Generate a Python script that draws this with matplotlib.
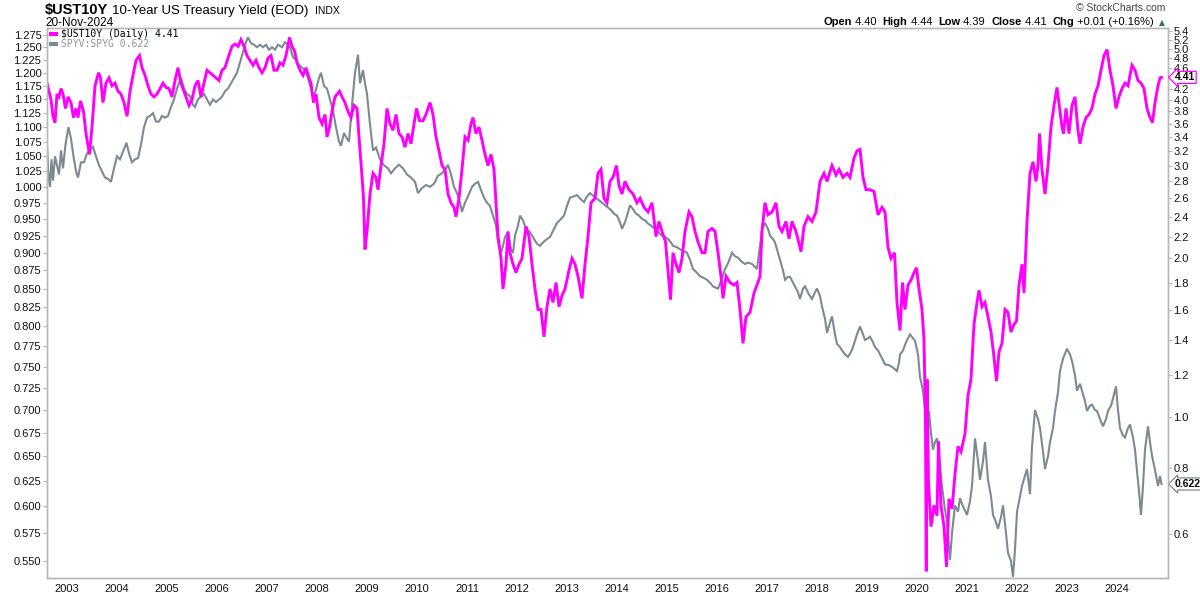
import matplotlib
matplotlib.use("Agg")
import matplotlib.pyplot as plt
import matplotlib.transforms as mtransforms
from matplotlib.ticker import FixedLocator, NullLocator, FixedFormatter, NullFormatter
from matplotlib.lines import Line2D

# ---------------- data (decimal years) ----------------
ust_t = [2002.60, 2002.64, 2002.68, 2002.72, 2002.76, 2002.80, 2002.84, 2002.88, 2002.92, 2002.97,
         2003.02, 2003.08, 2003.13, 2003.18, 2003.22, 2003.27, 2003.33, 2003.38, 2003.45, 2003.50,
         2003.56, 2003.63, 2003.67, 2003.72, 2003.78, 2003.84, 2003.90, 2003.96, 2004.02, 2004.08,
         2004.14, 2004.20, 2004.26, 2004.32, 2004.38, 2004.45, 2004.50, 2004.56, 2004.62, 2004.68,
         2004.74, 2004.80, 2004.86, 2004.92, 2004.98, 2005.04, 2005.10, 2005.16, 2005.22, 2005.28,
         2005.34, 2005.40, 2005.44, 2005.50, 2005.56, 2005.62, 2005.68, 2005.74, 2005.80, 2005.86,
         2005.92, 2005.98, 2006.04, 2006.10, 2006.16, 2006.22, 2006.30, 2006.36, 2006.42, 2006.48,
         2006.54, 2006.60, 2006.66, 2006.72, 2006.78, 2006.84, 2006.90, 2006.96, 2007.02, 2007.08,
         2007.14, 2007.20, 2007.26, 2007.32, 2007.38, 2007.45, 2007.50, 2007.55, 2007.60, 2007.66,
         2007.72, 2007.78, 2007.84, 2007.88, 2007.93, 2007.98, 2008.04, 2008.10, 2008.16, 2008.20,
         2008.25, 2008.30, 2008.36, 2008.45, 2008.50, 2008.56, 2008.62, 2008.68, 2008.74, 2008.80,
         2008.85, 2008.89, 2008.93, 2008.96, 2009.00, 2009.06, 2009.12, 2009.18, 2009.22, 2009.28,
         2009.34, 2009.40, 2009.46, 2009.52, 2009.58, 2009.64, 2009.70, 2009.76, 2009.82, 2009.88,
         2009.94, 2009.99, 2010.05, 2010.12, 2010.18, 2010.26, 2010.32, 2010.38, 2010.44, 2010.50,
         2010.56, 2010.62, 2010.68, 2010.74, 2010.78, 2010.84, 2010.90, 2010.96, 2011.02, 2011.08,
         2011.12, 2011.18, 2011.24, 2011.30, 2011.36, 2011.42, 2011.48, 2011.54, 2011.58, 2011.62,
         2011.68, 2011.72, 2011.78, 2011.82, 2011.86, 2011.92, 2011.98, 2012.04, 2012.10, 2012.18,
         2012.24, 2012.30, 2012.36, 2012.42, 2012.48, 2012.54, 2012.60, 2012.66, 2012.72, 2012.78,
         2012.84, 2012.90, 2012.96, 2013.04, 2013.10, 2013.16, 2013.22, 2013.30, 2013.36, 2013.42,
         2013.48, 2013.56, 2013.62, 2013.68, 2013.74, 2013.80, 2013.86, 2013.92, 2013.99, 2014.04,
         2014.10, 2014.16, 2014.24, 2014.32, 2014.40, 2014.46, 2014.54, 2014.62, 2014.70, 2014.78,
         2014.84, 2014.90, 2014.97, 2015.03, 2015.07, 2015.12, 2015.18, 2015.24, 2015.30, 2015.36,
         2015.44, 2015.50, 2015.56, 2015.62, 2015.70, 2015.76, 2015.82, 2015.90, 2015.96, 2016.02,
         2016.08, 2016.12, 2016.18, 2016.26, 2016.34, 2016.40, 2016.46, 2016.52, 2016.58, 2016.66,
         2016.74, 2016.80, 2016.86, 2016.90, 2016.96, 2017.02, 2017.10, 2017.18, 2017.24, 2017.30,
         2017.38, 2017.44, 2017.50, 2017.58, 2017.68, 2017.74, 2017.82, 2017.90, 2017.98, 2018.06,
         2018.14, 2018.20, 2018.30, 2018.38, 2018.44, 2018.52, 2018.60, 2018.66, 2018.74, 2018.80,
         2018.86, 2018.92, 2018.98, 2019.06, 2019.14, 2019.22, 2019.30, 2019.36, 2019.42, 2019.48,
         2019.55, 2019.60, 2019.66, 2019.71, 2019.76, 2019.82, 2019.88, 2019.94, 2019.99, 2020.04,
         2020.10, 2020.14, 2020.17, 2020.185, 2020.20, 2020.23, 2020.28, 2020.34, 2020.40, 2020.43,
         2020.48, 2020.54, 2020.59, 2020.64, 2020.70, 2020.76, 2020.82, 2020.88, 2020.96, 2021.02,
         2021.08, 2021.14, 2021.20, 2021.24, 2021.30, 2021.36, 2021.42, 2021.48, 2021.54, 2021.59,
         2021.64, 2021.70, 2021.76, 2021.82, 2021.88, 2021.94, 2021.99, 2022.04, 2022.10, 2022.14,
         2022.20, 2022.26, 2022.32, 2022.38, 2022.42, 2022.45, 2022.50, 2022.56, 2022.62, 2022.68,
         2022.74, 2022.80, 2022.86, 2022.90, 2022.93, 2022.98, 2023.04, 2023.10, 2023.16, 2023.22,
         2023.26, 2023.32, 2023.38, 2023.44, 2023.50, 2023.56, 2023.62, 2023.68, 2023.74, 2023.80,
         2023.86, 2023.92, 2023.98, 2024.04, 2024.10, 2024.16, 2024.22, 2024.30, 2024.36, 2024.42,
         2024.48, 2024.54, 2024.60, 2024.66, 2024.71, 2024.76, 2024.82, 2024.86, 2024.89]
ust_v = [4.30, 4.15, 4.00, 3.72, 3.62, 4.10, 4.05, 4.20, 4.10, 3.85,
         4.05, 3.95, 3.70, 3.85, 3.70, 3.98, 3.80, 3.45, 3.15, 3.55,
         4.25, 4.50, 4.40, 3.95, 4.30, 4.40, 4.25, 4.30, 4.15, 4.10,
         3.95, 3.72, 4.15, 4.45, 4.75, 4.85, 4.60, 4.45, 4.25, 4.10,
         4.05, 4.10, 4.20, 4.30, 4.22, 4.20, 4.05, 4.35, 4.60, 4.30,
         4.15, 4.00, 3.90, 4.00, 4.25, 4.35, 4.05, 4.30, 4.55, 4.50,
         4.45, 4.40, 4.35, 4.55, 4.60, 4.80, 5.05, 5.10, 5.05, 5.20,
         5.05, 4.85, 4.75, 4.65, 4.75, 4.60, 4.50, 4.60, 4.80, 4.85,
         4.55, 4.55, 4.70, 4.65, 4.85, 5.25, 5.05, 4.95, 4.70, 4.55,
         4.45, 4.60, 4.40, 4.30, 3.95, 4.10, 3.70, 3.60, 3.75, 3.40,
         3.55, 3.80, 4.05, 4.15, 4.05, 3.95, 3.80, 3.70, 3.90, 3.85,
         3.30, 2.95, 2.60, 2.08, 2.25, 2.65, 2.90, 2.85, 2.70, 3.00,
         3.30, 3.85, 3.60, 3.50, 3.75, 3.45, 3.40, 3.25, 3.45, 3.30,
         3.60, 3.85, 3.65, 3.65, 3.75, 3.95, 3.75, 3.40, 3.20, 3.00,
         2.95, 2.65, 2.55, 2.50, 2.40, 2.60, 2.95, 3.40, 3.35, 3.60,
         3.70, 3.45, 3.55, 3.35, 3.15, 3.00, 3.15, 2.95, 2.55, 2.20,
         2.00, 1.75, 1.95, 2.25, 2.05, 1.95, 1.88, 1.95, 2.00, 2.30,
         2.20, 1.95, 1.75, 1.60, 1.60, 1.42, 1.62, 1.75, 1.65, 1.80,
         1.62, 1.70, 1.75, 1.90, 2.00, 1.95, 1.85, 1.68, 1.95, 2.20,
         2.55, 2.60, 2.90, 2.95, 2.60, 2.55, 2.80, 2.85, 3.00, 2.75,
         2.65, 2.80, 2.70, 2.65, 2.55, 2.60, 2.50, 2.45, 2.55, 2.20,
         2.35, 2.25, 2.15, 1.85, 1.67, 2.05, 1.95, 1.88, 2.00, 2.25,
         2.45, 2.40, 2.25, 2.15, 2.05, 2.05, 2.25, 2.28, 2.25, 2.05,
         1.85, 1.68, 1.85, 1.80, 1.78, 1.80, 1.60, 1.38, 1.55, 1.58,
         1.72, 1.78, 1.85, 2.25, 2.55, 2.42, 2.45, 2.55, 2.30, 2.25,
         2.35, 2.18, 2.35, 2.25, 2.06, 2.30, 2.40, 2.35, 2.45, 2.80,
         2.90, 2.80, 3.00, 2.88, 2.95, 2.85, 2.90, 2.85, 3.10, 3.20,
         3.22, 2.85, 2.70, 2.70, 2.68, 2.42, 2.50, 2.45, 2.10, 2.00,
         2.05, 1.65, 1.46, 1.80, 1.60, 1.78, 1.82, 1.88, 1.92, 1.75,
         1.60, 1.40, 0.98, 0.51, 1.18, 0.75, 0.62, 0.68, 0.65, 0.90,
         0.68, 0.62, 0.52, 0.70, 0.67, 0.78, 0.88, 0.86, 0.93, 1.10,
         1.18, 1.50, 1.65, 1.74, 1.62, 1.65, 1.55, 1.45, 1.30, 1.17,
         1.33, 1.38, 1.60, 1.58, 1.45, 1.50, 1.52, 1.78, 1.95, 1.72,
         2.35, 2.90, 3.05, 2.80, 3.00, 3.45, 2.95, 2.65, 3.00, 3.55,
         3.90, 4.22, 3.80, 3.55, 3.45, 3.85, 3.45, 3.90, 4.05, 3.50,
         3.30, 3.55, 3.70, 3.75, 3.85, 4.10, 4.25, 4.55, 4.85, 4.98,
         4.55, 4.25, 3.85, 4.05, 4.20, 4.30, 4.25, 4.65, 4.55, 4.35,
         4.30, 4.20, 3.85, 3.70, 3.62, 3.95, 4.25, 4.40, 4.41]

ratio_t = [2002.60, 2002.63, 2002.66, 2002.69, 2002.72, 2002.76, 2002.80, 2002.84, 2002.88, 2002.92,
           2002.97, 2003.03, 2003.08, 2003.13, 2003.18, 2003.22, 2003.28, 2003.34, 2003.40, 2003.46,
           2003.52, 2003.58, 2003.64, 2003.70, 2003.76, 2003.82, 2003.88, 2003.94, 2004.00, 2004.06,
           2004.12, 2004.19, 2004.24, 2004.30, 2004.36, 2004.42, 2004.48, 2004.54, 2004.60, 2004.66,
           2004.72, 2004.78, 2004.84, 2004.90, 2004.96, 2005.02, 2005.08, 2005.14, 2005.20, 2005.28,
           2005.34, 2005.40, 2005.46, 2005.52, 2005.56, 2005.62, 2005.68, 2005.74, 2005.80, 2005.86,
           2005.92, 2005.98, 2006.04, 2006.10, 2006.16, 2006.22, 2006.28, 2006.34, 2006.40, 2006.46,
           2006.52, 2006.58, 2006.62, 2006.68, 2006.74, 2006.80, 2006.86, 2006.92, 2006.98, 2007.04,
           2007.10, 2007.16, 2007.22, 2007.30, 2007.36, 2007.42, 2007.46, 2007.52, 2007.58, 2007.64,
           2007.70, 2007.76, 2007.82, 2007.88, 2007.92, 2007.97, 2008.04, 2008.08, 2008.14, 2008.20,
           2008.26, 2008.32, 2008.38, 2008.44, 2008.48, 2008.54, 2008.60, 2008.64, 2008.70, 2008.76,
           2008.82, 2008.86, 2008.92, 2008.96, 2009.00, 2009.06, 2009.12, 2009.18, 2009.26, 2009.34,
           2009.42, 2009.48, 2009.56, 2009.64, 2009.72, 2009.80, 2009.88, 2009.96, 2010.02, 2010.10,
           2010.18, 2010.26, 2010.34, 2010.42, 2010.50, 2010.58, 2010.62, 2010.68, 2010.74, 2010.80,
           2010.86, 2010.90, 2010.96, 2011.02, 2011.10, 2011.16, 2011.22, 2011.28, 2011.34, 2011.40,
           2011.46, 2011.52, 2011.58, 2011.62, 2011.68, 2011.72, 2011.76, 2011.82, 2011.88, 2011.92,
           2011.96, 2012.02, 2012.06, 2012.12, 2012.18, 2012.26, 2012.34, 2012.40, 2012.46, 2012.52,
           2012.60, 2012.66, 2012.74, 2012.80, 2012.88, 2012.94, 2013.00, 2013.06, 2013.14, 2013.20,
           2013.28, 2013.34, 2013.40, 2013.46, 2013.54, 2013.62, 2013.70, 2013.78, 2013.86, 2013.94,
           2014.00, 2014.06, 2014.10, 2014.16, 2014.22, 2014.26, 2014.32, 2014.38, 2014.44, 2014.50,
           2014.56, 2014.62, 2014.68, 2014.76, 2014.82, 2014.90, 2014.96, 2015.02, 2015.08, 2015.12,
           2015.20, 2015.26, 2015.34, 2015.40, 2015.46, 2015.52, 2015.58, 2015.66, 2015.72, 2015.80,
           2015.86, 2015.92, 2015.98, 2016.02, 2016.08, 2016.16, 2016.22, 2016.30, 2016.36, 2016.42,
           2016.48, 2016.56, 2016.62, 2016.70, 2016.76, 2016.80, 2016.86, 2016.90, 2016.96, 2017.02,
           2017.06, 2017.12, 2017.16, 2017.22, 2017.26, 2017.32, 2017.36, 2017.42, 2017.46, 2017.52,
           2017.56, 2017.62, 2017.66, 2017.72, 2017.76, 2017.84, 2017.90, 2017.96, 2018.00, 2018.06,
           2018.10, 2018.16, 2018.20, 2018.26, 2018.30, 2018.36, 2018.40, 2018.46, 2018.50, 2018.56,
           2018.62, 2018.68, 2018.72, 2018.80, 2018.86, 2018.92, 2018.96, 2019.02, 2019.06, 2019.12,
           2019.16, 2019.22, 2019.26, 2019.32, 2019.36, 2019.44, 2019.50, 2019.56, 2019.60, 2019.64,
           2019.66, 2019.72, 2019.78, 2019.86, 2019.92, 2019.96, 2020.02, 2020.06, 2020.12, 2020.16,
           2020.20, 2020.24, 2020.28, 2020.32, 2020.36, 2020.40, 2020.45, 2020.50, 2020.55, 2020.60,
           2020.66, 2020.70, 2020.76, 2020.82, 2020.86, 2020.92, 2021.00, 2021.06, 2021.10, 2021.16,
           2021.22, 2021.26, 2021.32, 2021.36, 2021.42, 2021.48, 2021.52, 2021.58, 2021.62, 2021.68,
           2021.72, 2021.78, 2021.82, 2021.88, 2021.92, 2021.96, 2022.00, 2022.06, 2022.10, 2022.16,
           2022.20, 2022.26, 2022.30, 2022.36, 2022.42, 2022.46, 2022.52, 2022.56, 2022.62, 2022.66,
           2022.72, 2022.76, 2022.82, 2022.86, 2022.92, 2023.00, 2023.06, 2023.10, 2023.16, 2023.20,
           2023.26, 2023.30, 2023.36, 2023.40, 2023.46, 2023.50, 2023.56, 2023.60, 2023.66, 2023.72,
           2023.78, 2023.82, 2023.88, 2023.92, 2023.98, 2024.02, 2024.06, 2024.12, 2024.16, 2024.22,
           2024.26, 2024.32, 2024.36, 2024.40, 2024.44, 2024.48, 2024.52, 2024.56, 2024.62, 2024.66,
           2024.70, 2024.76, 2024.82, 2024.86, 2024.89]
ratio_v = [1.070, 1.020, 1.000, 1.045, 1.010, 1.050, 1.035, 1.020, 1.060, 1.030,
           1.070, 1.100, 1.080, 1.050, 1.025, 1.015, 1.040, 1.040, 1.055, 1.060,
           1.066, 1.050, 1.035, 1.025, 1.015, 1.013, 1.008, 1.030, 1.050, 1.045,
           1.058, 1.073, 1.055, 1.040, 1.045, 1.047, 1.070, 1.100, 1.117, 1.120,
           1.125, 1.110, 1.110, 1.120, 1.117, 1.120, 1.136, 1.150, 1.170, 1.190,
           1.170, 1.160, 1.156, 1.140, 1.136, 1.150, 1.155, 1.160, 1.150, 1.140,
           1.150, 1.145, 1.150, 1.155, 1.165, 1.170, 1.180, 1.190, 1.200, 1.220,
           1.240, 1.260, 1.270, 1.258, 1.255, 1.250, 1.255, 1.250, 1.255, 1.245,
           1.250, 1.245, 1.255, 1.250, 1.260, 1.255, 1.250, 1.230, 1.225, 1.215,
           1.210, 1.205, 1.190, 1.170, 1.155, 1.165, 1.190, 1.200, 1.175, 1.170,
           1.150, 1.130, 1.100, 1.075, 1.068, 1.090, 1.080, 1.075, 1.140, 1.200,
           1.235, 1.180, 1.205, 1.180, 1.160, 1.105, 1.060, 1.065, 1.045, 1.035,
           1.030, 1.022, 1.030, 1.036, 1.030, 1.020, 1.015, 1.008, 0.990, 0.998,
           1.003, 1.000, 1.005, 1.018, 1.022, 1.030, 1.036, 1.020, 1.000, 0.990,
           0.975, 0.961, 0.975, 0.985, 1.000, 1.005, 1.008, 0.995, 0.983, 0.975,
           0.970, 0.955, 0.940, 0.917, 0.900, 0.910, 0.923, 0.930, 0.905, 0.900,
           0.925, 0.940, 0.955, 0.948, 0.935, 0.930, 0.920, 0.913, 0.910, 0.915,
           0.920, 0.923, 0.935, 0.944, 0.950, 0.955, 0.970, 0.983, 0.985, 0.987,
           0.980, 0.976, 0.985, 0.990, 0.985, 0.980, 0.975, 0.970, 0.965, 0.958,
           0.955, 0.945, 0.935, 0.945, 0.960, 0.971, 0.965, 0.958, 0.955, 0.950,
           0.948, 0.943, 0.940, 0.935, 0.930, 0.925, 0.923, 0.920, 0.915, 0.910,
           0.908, 0.905, 0.902, 0.900, 0.890, 0.877, 0.873, 0.867, 0.865, 0.862,
           0.858, 0.853, 0.851, 0.850, 0.860, 0.877, 0.885, 0.900, 0.895, 0.893,
           0.888, 0.884, 0.886, 0.884, 0.880, 0.877, 0.910, 0.935, 0.944, 0.935,
           0.925, 0.920, 0.915, 0.900, 0.890, 0.875, 0.862, 0.866, 0.866, 0.858,
           0.853, 0.845, 0.836, 0.850, 0.853, 0.842, 0.836, 0.845, 0.850, 0.840,
           0.826, 0.810, 0.792, 0.805, 0.813, 0.790, 0.778, 0.774, 0.770, 0.765,
           0.762, 0.768, 0.774, 0.790, 0.800, 0.790, 0.783, 0.785, 0.787, 0.780,
           0.774, 0.770, 0.765, 0.758, 0.753, 0.752, 0.750, 0.747, 0.745, 0.755,
           0.765, 0.770, 0.780, 0.790, 0.785, 0.782, 0.765, 0.738, 0.722, 0.700,
           0.657, 0.699, 0.675, 0.657, 0.665, 0.669, 0.645, 0.620, 0.600, 0.585,
           0.551, 0.575, 0.601, 0.595, 0.608, 0.600, 0.592, 0.605, 0.620, 0.669,
           0.645, 0.626, 0.645, 0.665, 0.626, 0.610, 0.592, 0.585, 0.579, 0.590,
           0.601, 0.575, 0.557, 0.550, 0.536, 0.560, 0.595, 0.610, 0.620, 0.630,
           0.637, 0.612, 0.660, 0.700, 0.690, 0.680, 0.655, 0.637, 0.650, 0.665,
           0.680, 0.699, 0.720, 0.745, 0.760, 0.772, 0.765, 0.757, 0.740, 0.722,
           0.730, 0.722, 0.710, 0.699, 0.705, 0.706, 0.700, 0.699, 0.690, 0.682,
           0.690, 0.699, 0.705, 0.713, 0.727, 0.700, 0.680, 0.672, 0.670, 0.680,
           0.684, 0.670, 0.657, 0.635, 0.615, 0.592, 0.620, 0.657, 0.682, 0.665,
           0.651, 0.636, 0.620, 0.630, 0.622]

left_ticks = [0.550, 0.575, 0.600, 0.625, 0.650, 0.675, 0.700, 0.725, 0.750, 0.775, 0.800,
              0.825, 0.850, 0.875, 0.900, 0.925, 0.950, 0.975, 1.000, 1.025, 1.050, 1.075,
              1.100, 1.125, 1.150, 1.175, 1.200, 1.225, 1.250, 1.275]
right_ticks = [0.6, 0.8, 1.0, 1.2, 1.4, 1.6, 1.8, 2.0, 2.2, 2.4, 2.6, 2.8, 3.0, 3.2, 3.4,
               3.6, 3.8, 4.0, 4.2, 4.6, 4.8, 5.0, 5.2, 5.4]
year_ticks = list(range(2003, 2025))

PINK = "#ff00ff"
GRAY = "#7d8a91"
SPINE = "#b8b8b8"
FONT = "Liberation Sans"

plt.rcParams["font.family"] = [FONT, "DejaVu Sans"]

fig = plt.figure(figsize=(12, 6), dpi=100)
ax = fig.add_axes([47 / 1200, 22 / 600, (1168 - 47) / 1200, (578 - 28) / 600])
ax2 = ax.twinx()

# gray ratio on left log axis
ax.plot(ratio_t, ratio_v, color=GRAY, lw=1.5, solid_joinstyle="miter")
ax.set_yscale("log")
ax.set_ylim(0.5352, 1.289)
# pink yield on right log axis
ax2.plot(ust_t, ust_v, color=PINK, lw=2.1, solid_joinstyle="miter")
ax2.set_yscale("log")
ax2.set_ylim(0.4953, 5.471)
ax.set_xlim(2002.6, 2025.02)

for a in (ax, ax2):
    for s in a.spines.values():
        s.set_color(SPINE)
        s.set_linewidth(1.0)
    a.yaxis.set_minor_locator(NullLocator())
    a.yaxis.set_minor_formatter(NullFormatter())

ax.yaxis.set_major_locator(FixedLocator(left_ticks))
ax.yaxis.set_major_formatter(FixedFormatter([f"{v:.3f}" for v in left_ticks]))
ax2.yaxis.set_major_locator(FixedLocator(right_ticks))
ax2.yaxis.set_major_formatter(FixedFormatter([f"{v:.1f}" for v in right_ticks]))
ax.tick_params(axis="y", which="major", length=3, width=0.8, color=SPINE, pad=1,
               labelsize=8, labelcolor="#111111")
ax2.tick_params(axis="y", which="major", length=3, width=0.8, color=SPINE, pad=1,
                labelsize=8, labelcolor="#111111")
ax.set_xticks(year_ticks)
ax.set_xticklabels([str(y) for y in year_ticks])
ax.tick_params(axis="x", length=0, pad=4, labelsize=8, labelcolor="#111111")

# value tags on right axis
btrans = mtransforms.blended_transform_factory(ax2.transAxes, ax2.transData)
ax2.text(1.0062, ust_v[-1], f"{ust_v[-1]:.2f}", transform=btrans, ha="left", va="center",
         fontsize=7.5, fontweight="bold", color="black", zorder=10, clip_on=False,
         bbox=dict(boxstyle="larrow,pad=0.1", fc="white", ec=PINK, lw=0.9))
btrans1 = mtransforms.blended_transform_factory(ax.transAxes, ax.transData)
ax.text(1.0062, ratio_v[-1], f"{ratio_v[-1]:.3f}", transform=btrans1, ha="left", va="center",
        fontsize=7.5, fontweight="bold", color="black", zorder=10, clip_on=False,
        bbox=dict(boxstyle="larrow,pad=0.1", fc="white", ec=GRAY, lw=0.9))

# legend inside plot
ax2.add_line(Line2D([0.0015, 0.0095], [0.9885, 0.9885], transform=ax2.transAxes,
                    color=PINK, lw=3, solid_capstyle="butt", clip_on=False))
ax2.add_line(Line2D([0.0015, 0.0095], [0.9705, 0.9705], transform=ax2.transAxes,
                    color=GRAY, lw=3, solid_capstyle="butt", clip_on=False))
fig.text(61 / 1200, 1 - 34 / 600, f"$UST10Y (Daily) {ust_v[-1]:.2f}", family="DejaVu Sans Mono",
         fontsize=7, color="black", va="center", ha="left")
fig.text(61 / 1200, 1 - 44 / 600, f"SPYV:SPYG {ratio_v[-1]:.3f}", family="DejaVu Sans Mono",
         fontsize=7, color="#8a959b", va="center", ha="left")

renderer = fig.canvas.get_renderer()

# header left (chained pieces)
x_px = 45.0
for txt, size, weight, gap in [("$UST10Y", 10.5, "bold", 4), ("10-Year US Treasury Yield (EOD)", 9.5, "normal", 6),
                               ("INDX", 7.5, "normal", 0)]:
    t = fig.text(x_px / 1200, 1 - 14 / 600, txt, fontsize=size, fontweight=weight, va="baseline")
    x_px += t.get_window_extent(renderer=renderer).width + gap
fig.text(45 / 1200, 1 - 26 / 600, "20-Nov-2024", fontsize=8.5, va="baseline")

# header right
fig.text(1165 / 1200, 1 - 11 / 600, "\u00a9 StockCharts.com", fontsize=7.5, color="#444444",
         ha="right", va="baseline")
pieces = [("Open", True), (" 4.40  ", False), ("High", True), (" 4.44  ", False),
          ("Low", True), (" 4.39  ", False), ("Close", True), (" 4.41  ", False),
          ("Chg", True), (" +0.01 (+0.16%) ", False)]
x_px = 1157.0
fig.text(1165 / 1200, 1 - 25 / 600, "\u25b2", fontsize=5.5, color="#2e7d32", ha="right",
         va="baseline", family="DejaVu Sans")
for txt, bold in reversed(pieces):
    t = fig.text(x_px / 1200, 1 - 25 / 600, txt, fontsize=8,
                 fontweight="bold" if bold else "normal", ha="right", va="baseline")
    x_px -= t.get_window_extent(renderer=renderer).width

fig.savefig("out.png", dpi=100, facecolor="white")
